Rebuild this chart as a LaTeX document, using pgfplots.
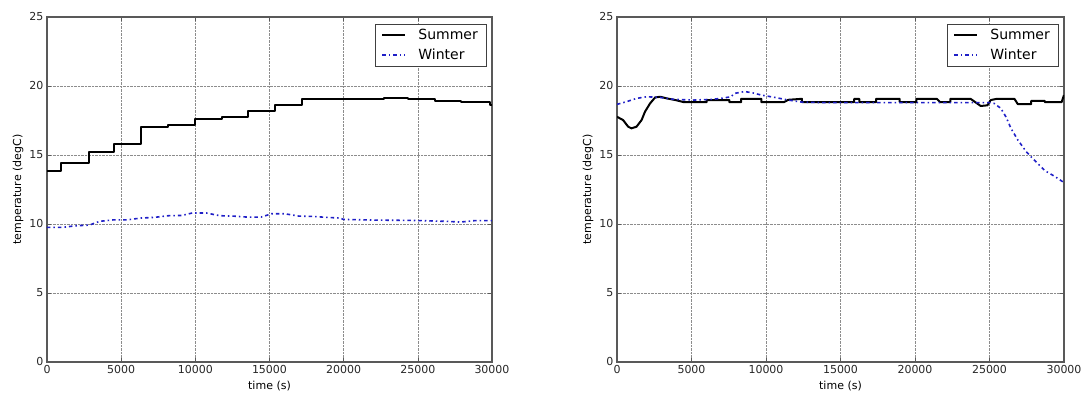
\documentclass[border=0pt]{standalone}
\usepackage{pgfplots}
\pgfplotsset{compat=1.18}
\usepackage{fontspec}
\setmainfont{DejaVu Sans}
\definecolor{wblue}{rgb}{0.12,0.12,0.78}
\pgfplotsset{
  mystyle/.style={
    scale only axis, anchor=south west,
    width=445pt, height=345pt,
    xmin=0, xmax=30000, ymin=0, ymax=25,
    xtick={0,5000,...,30000}, ytick={0,5,...,25},
    scaled ticks=false,
    /pgf/number format/assume math mode=true,
    /pgf/number format/set thousands separator={},
    tick label style={font=\fontsize{11}{13}\selectfont, text=black!85},
    label style={font=\fontsize{11}{13}\selectfont},
    xlabel={time (s)}, ylabel={temperature (degC)},
    xlabel style={at={(axis description cs:0.5,0)}, anchor=center, yshift=-24pt},
    ylabel style={at={(axis description cs:0,0.5)}, anchor=center, yshift=29pt},
    grid=major,
    major grid style={densely dotted, black!45, line width=0.6pt},
    axis line style={black!65, line width=1.2pt},
    tick align=inside, major tick length=4pt,
    tick style={black!65, line width=0.6pt},
    legend style={font=\fontsize{14}{16}\selectfont, draw=black!75,
      at={(1,1)}, anchor=north east, xshift=-6pt, yshift=-7pt,
      inner xsep=6pt, inner ysep=3pt, row sep=4pt},
    legend cell align=left,
    legend image code/.code={\draw[#1] (0pt,0pt) -- (23pt,0pt); \path (33pt,0pt);},
  },
  summer/.style={black, line width=2pt, line join=round},
  winter/.style={wblue, line width=1.6pt, dash pattern=on 3.5pt off 3pt on 1.5pt off 3pt},
}
\begin{document}
\begin{tikzpicture}
\useasboundingbox (0,0) rectangle (1088pt,395pt);
\begin{axis}[mystyle, at={(47pt,33pt)}]
\addplot[summer, const plot] coordinates {
(0,13.85) (950,14.40) (2800,15.25) (4550,15.78) (6350,17.03) (8180,17.17)
(9990,17.60) (11770,17.77) (13550,18.18) (15360,18.60) (17170,19.03)
(18950,19.07) (22700,19.12) (24350,19.07) (26130,18.90) (27910,18.86)
(29850,18.60) (30000,18.60)};
\addlegendentry{Summer}
\addplot[winter] coordinates {
(0,9.75) (1000,9.75) (1920,9.87) (2850,9.92) (3545,10.19) (4470,10.30)
(5400,10.30) (6325,10.43) (7250,10.48) (8180,10.60) (9100,10.62) (9800,10.80)
(10730,10.80) (11650,10.60) (12580,10.57) (13500,10.50) (14430,10.50)
(15130,10.74) (16050,10.74) (16980,10.57) (17900,10.55) (18830,10.48)
(19760,10.43) (19990,10.33) (22310,10.28) (24630,10.26) (26940,10.19)
(27870,10.14) (28800,10.24) (30000,10.24)};
\addlegendentry{Winter}
\end{axis}
\begin{axis}[mystyle, at={(617pt,33pt)}, width=447pt]
\addplot[summer] coordinates {
(0,17.77) (410,17.53) (750,17.05) (970,16.93) (1310,17.05) (1650,17.53)
(1880,18.14) (2220,18.74) (2560,19.17) (2900,19.22) (3350,19.10) (3920,18.98)
(4480,18.83) (6020,18.83) (6020,18.98) (7540,18.98) (7540,18.83) (8330,18.83)
(8330,19.07) (9690,19.07) (9690,18.83) (11200,18.83) (11500,19.00) (12410,19.07)
(12410,18.83) (15920,18.83) (15920,19.07) (16260,19.07) (16260,18.83)
(17390,18.83) (17390,19.07) (18970,19.07) (18970,18.83) (20100,18.83)
(20100,19.07) (21460,19.07) (21690,18.83) (22370,18.83) (22370,19.07)
(23730,19.07) (24410,18.55) (24860,18.60) (25080,18.98) (25500,19.07)
(26670,19.07) (26900,18.69) (27800,18.69) (27800,18.92) (28710,18.92)
(28710,18.83) (29840,18.83) (30000,19.34)};
\addlegendentry{Summer}
\addplot[winter] coordinates {
(0,18.67) (630,18.86) (1310,19.10) (1990,19.22) (2900,19.17) (3800,19.03)
(5160,18.98) (6290,19.03) (6970,19.10) (7650,19.22) (7880,19.46) (8560,19.60)
(9120,19.50) (9690,19.34) (10600,19.17) (11500,18.98) (12410,18.83)
(14220,18.79) (25080,18.79) (25310,18.74) (25760,18.38) (26100,17.77)
(26440,16.93) (26900,16.09) (27460,15.25) (28030,14.60) (28710,13.87)
(29390,13.44) (30000,13.00)};
\addlegendentry{Winter}
\end{axis}
\end{tikzpicture}
\end{document}
